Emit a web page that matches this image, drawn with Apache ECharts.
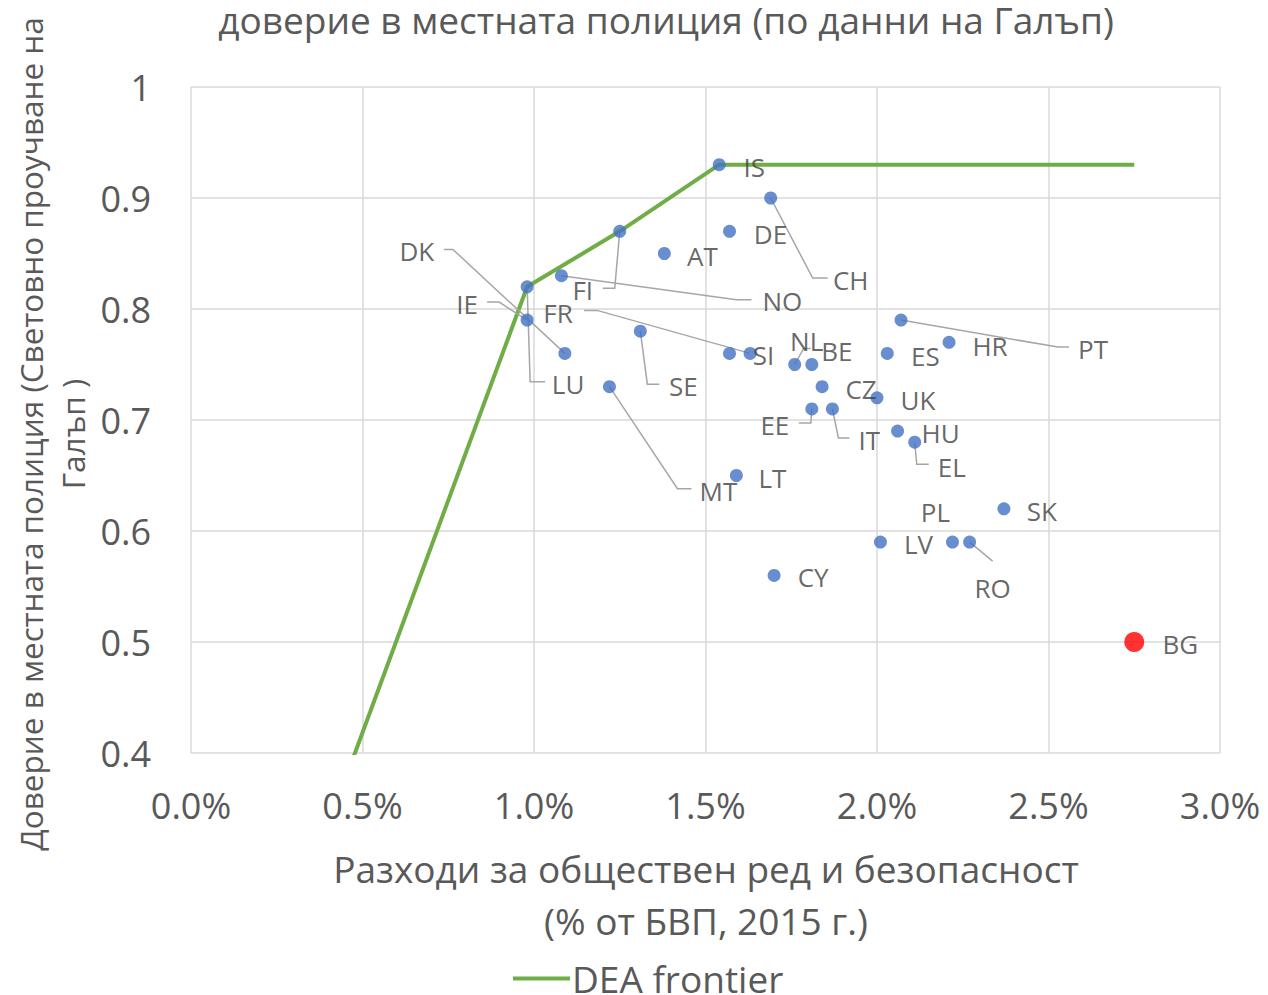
<!DOCTYPE html>
<html><head><meta charset="utf-8">
<script src="https://cdn.jsdelivr.net/npm/echarts@6/dist/echarts.min.js"></script>
<style>html,body{margin:0;padding:0;background:#fff}#c{width:1268px;height:995px}</style>
</head><body><div id="c"></div>
<script>
// ---- data ----
const countries = ['IS','CH','DE','FI','AT','NO','LU','IE','DK','FR','SI','SE','MT','LT','NL','BE','CZ','EE','IT','ES','UK','PT','HR','HU','EL','SK','LV','PL','RO','CY'];
const spending  = [1.54,1.69,1.57,1.25,1.38,1.08,0.98,0.98,1.09,1.63,1.57,1.31,1.22,1.59,1.76,1.81,1.84,1.81,1.87,2.03,2.00,2.07,2.21,2.06,2.11,2.37,2.01,2.22,2.27,1.70];
const trust     = [0.93,0.90,0.87,0.87,0.85,0.83,0.82,0.79,0.76,0.76,0.76,0.78,0.73,0.65,0.75,0.75,0.73,0.71,0.71,0.76,0.72,0.79,0.77,0.69,0.68,0.62,0.59,0.59,0.59,0.56];
const highlightName = ['BG'];
const highlightSpending = [2.75];
const highlightTrust = [0.50];
const frontierSpending = [0, 0.98, 1.25, 1.54, 2.75];
const frontierTrust    = [0, 0.82, 0.87, 0.93, 0.93];
const xTicks = [0, 0.5, 1, 1.5, 2, 2.5, 3];
const yTicks = [0.4, 0.5, 0.6, 0.7, 0.8, 0.9, 1];

// ---- label placement (style, pixel offsets from the point) ----
const labelOffsets = {
  IS:[35,2], CH:[80,82], DE:[41,3], FI:[-37,59], AT:[38,2], NO:[221,25], LU:[41,97], IE:[-60,-16],
  DK:[-148,-102], FR:[-192,-40], SI:[34,2], SE:[43,55], MT:[109,104], LT:[36,2], NL:[12,-24],
  BE:[25,-14], CZ:[39,2], EE:[-37,16], IT:[37,31], ES:[38,3], UK:[41,2], PT:[192,29], HR:[41,4],
  HU:[43,2], EL:[37,25], SK:[38,2], LV:[38,2], PL:[-17,-30], RO:[23,46], CY:[39,2], BG:[46,2]
};
// leader line shape: [elbow offset, end offset] relative to the point
const leaderShapes = {
  CH:[[42,80],[57,80]], FI:[[-5,57],[-17,57]], NO:[[175,24],[190,24]], LU:[[3,95],[18,95]],
  IE:[[-28,-18],[-40,-18]], DK:[[-112,-104],[-121,-104]], FR:[[-153,-43],[-166,-43]],
  SE:[[7,53],[19,53]], MT:[[68,102],[82,102]], NL:[[9,-16],[16,-16]], EE:[[-1,14],[-13,14]],
  IT:[[6,29],[17,29]], PT:[[157,27],[168,27]], EL:[[2,22],[14,22]], RO:[[23,19],[23,19]]
};

const FONT = '"Open Sans", "Noto Sans", sans-serif';
const GREY = '#595959';

const pointData = countries.map((c, i) => ({ name: c, value: [spending[i], trust[i]] }));
const bgData = highlightName.map((c, i) => ({ name: c, value: [highlightSpending[i], highlightTrust[i]] }));
const frontierData = frontierSpending.map((x, i) => [x, frontierTrust[i]]);
const leaderNames = countries.filter(c => leaderShapes[c]);
const leaderData = leaderNames.map(c => { const i = countries.indexOf(c); return { name: c, value: [spending[i], trust[i]] }; });

function layoutFor(names) {
  return function (p) {
    const o = labelOffsets[names[p.dataIndex]] || [0, 0];
    return { x: p.rect.x + p.rect.width / 2 + o[0], y: p.rect.y + p.rect.height / 2 + o[1], align: 'center', verticalAlign: 'middle' };
  };
}

const labelStyle = { show: true, formatter: '{b}', position: 'inside', color: '#404040', fontSize: 26, fontFamily: FONT };

const chart = echarts.init(document.getElementById('c'), null, { renderer: 'svg' });
chart.setOption({
  animation: false,
  backgroundColor: '#fff',
  grid: { left: 191, right: 48, top: 87, bottom: 242, containLabel: false },
  xAxis: {
    type: 'value', min: xTicks[0], max: xTicks[xTicks.length - 1], interval: 0.5,
    axisLine: { show: false }, axisTick: { show: false },
    splitLine: { show: true, lineStyle: { color: '#d9d9d9', width: 1.5 } },
    axisLabel: { formatter: v => v.toFixed(1) + '%', color: GREY, fontSize: 36, fontFamily: FONT, margin: 34 }
  },
  yAxis: {
    type: 'value', min: yTicks[0], max: yTicks[yTicks.length - 1], interval: 0.1,
    axisLine: { show: false }, axisTick: { show: false },
    splitLine: { show: true, lineStyle: { color: '#d9d9d9', width: 1.5 } },
    axisLabel: { formatter: v => (Math.abs(v - 1) < 1e-9 ? '1' : v.toFixed(1)), color: GREY, fontSize: 36, fontFamily: FONT, margin: 40 }
  },
  legend: {
    data: [{ name: 'DEA frontier', icon: 'rect' }], left: 508, top: 955, itemWidth: 57, itemHeight: 4, itemGap: 0,
    textStyle: { color: GREY, fontSize: 37, fontFamily: FONT, lineHeight: 37, padding: [0, 0, 0, -3] }
  },
  graphic: [
    { type: 'text', x: 666, y: 19,
      style: { text: 'доверие в местната полиция (по данни на Галъп)', fill: GREY, font: '37px ' + FONT, align: 'center', verticalAlign: 'middle', lineHeight: 37 } },
    { type: 'text', x: 51, y: 434, rotation: Math.PI / 2,
      style: { text: 'Доверие в местната полиция (Световно проучване на\nГалъп )', fill: GREY, font: '31.5px ' + FONT, align: 'center', verticalAlign: 'middle', lineHeight: 42 } },
    { type: 'text', x: 706, y: 894,
      style: { text: 'Разходи за обществен ред и безопасност\n(% от БВП, 2015 г.)', fill: GREY, font: '37px ' + FONT, align: 'center', verticalAlign: 'middle', lineHeight: 52 } }
  ],
  series: [
    {
      name: 'DEA frontier', type: 'line', data: frontierData, showSymbol: false, symbol: 'none',
      lineStyle: { color: '#70AD47', width: 4 }, itemStyle: { color: '#70AD47' }, z: 2, clip: true
    },
    {
      name: 'leaders', type: 'custom', data: leaderData, z: 2.5, silent: true,
      renderItem: function (params, api) {
        const p = api.coord([api.value(0), api.value(1)]);
        const s = leaderShapes[leaderNames[params.dataIndex]];
        return {
          type: 'polyline',
          shape: { points: [p, [p[0] + s[0][0], p[1] + s[0][1]], [p[0] + s[1][0], p[1] + s[1][1]]] },
          style: { stroke: '#a6a6a6', lineWidth: 1.5, fill: null }
        };
      }
    },
    {
      name: 'countries', type: 'scatter', data: pointData, symbolSize: 13, z: 3,
      itemStyle: { color: '#4472C4' },
      label: labelStyle,
      labelLayout: layoutFor(countries)
    },
    {
      name: 'BG', type: 'scatter', data: bgData, symbolSize: 20, z: 3,
      itemStyle: { color: '#FF0000' },
      label: labelStyle,
      labelLayout: layoutFor(highlightName)
    }
  ]
});
</script></body></html>
